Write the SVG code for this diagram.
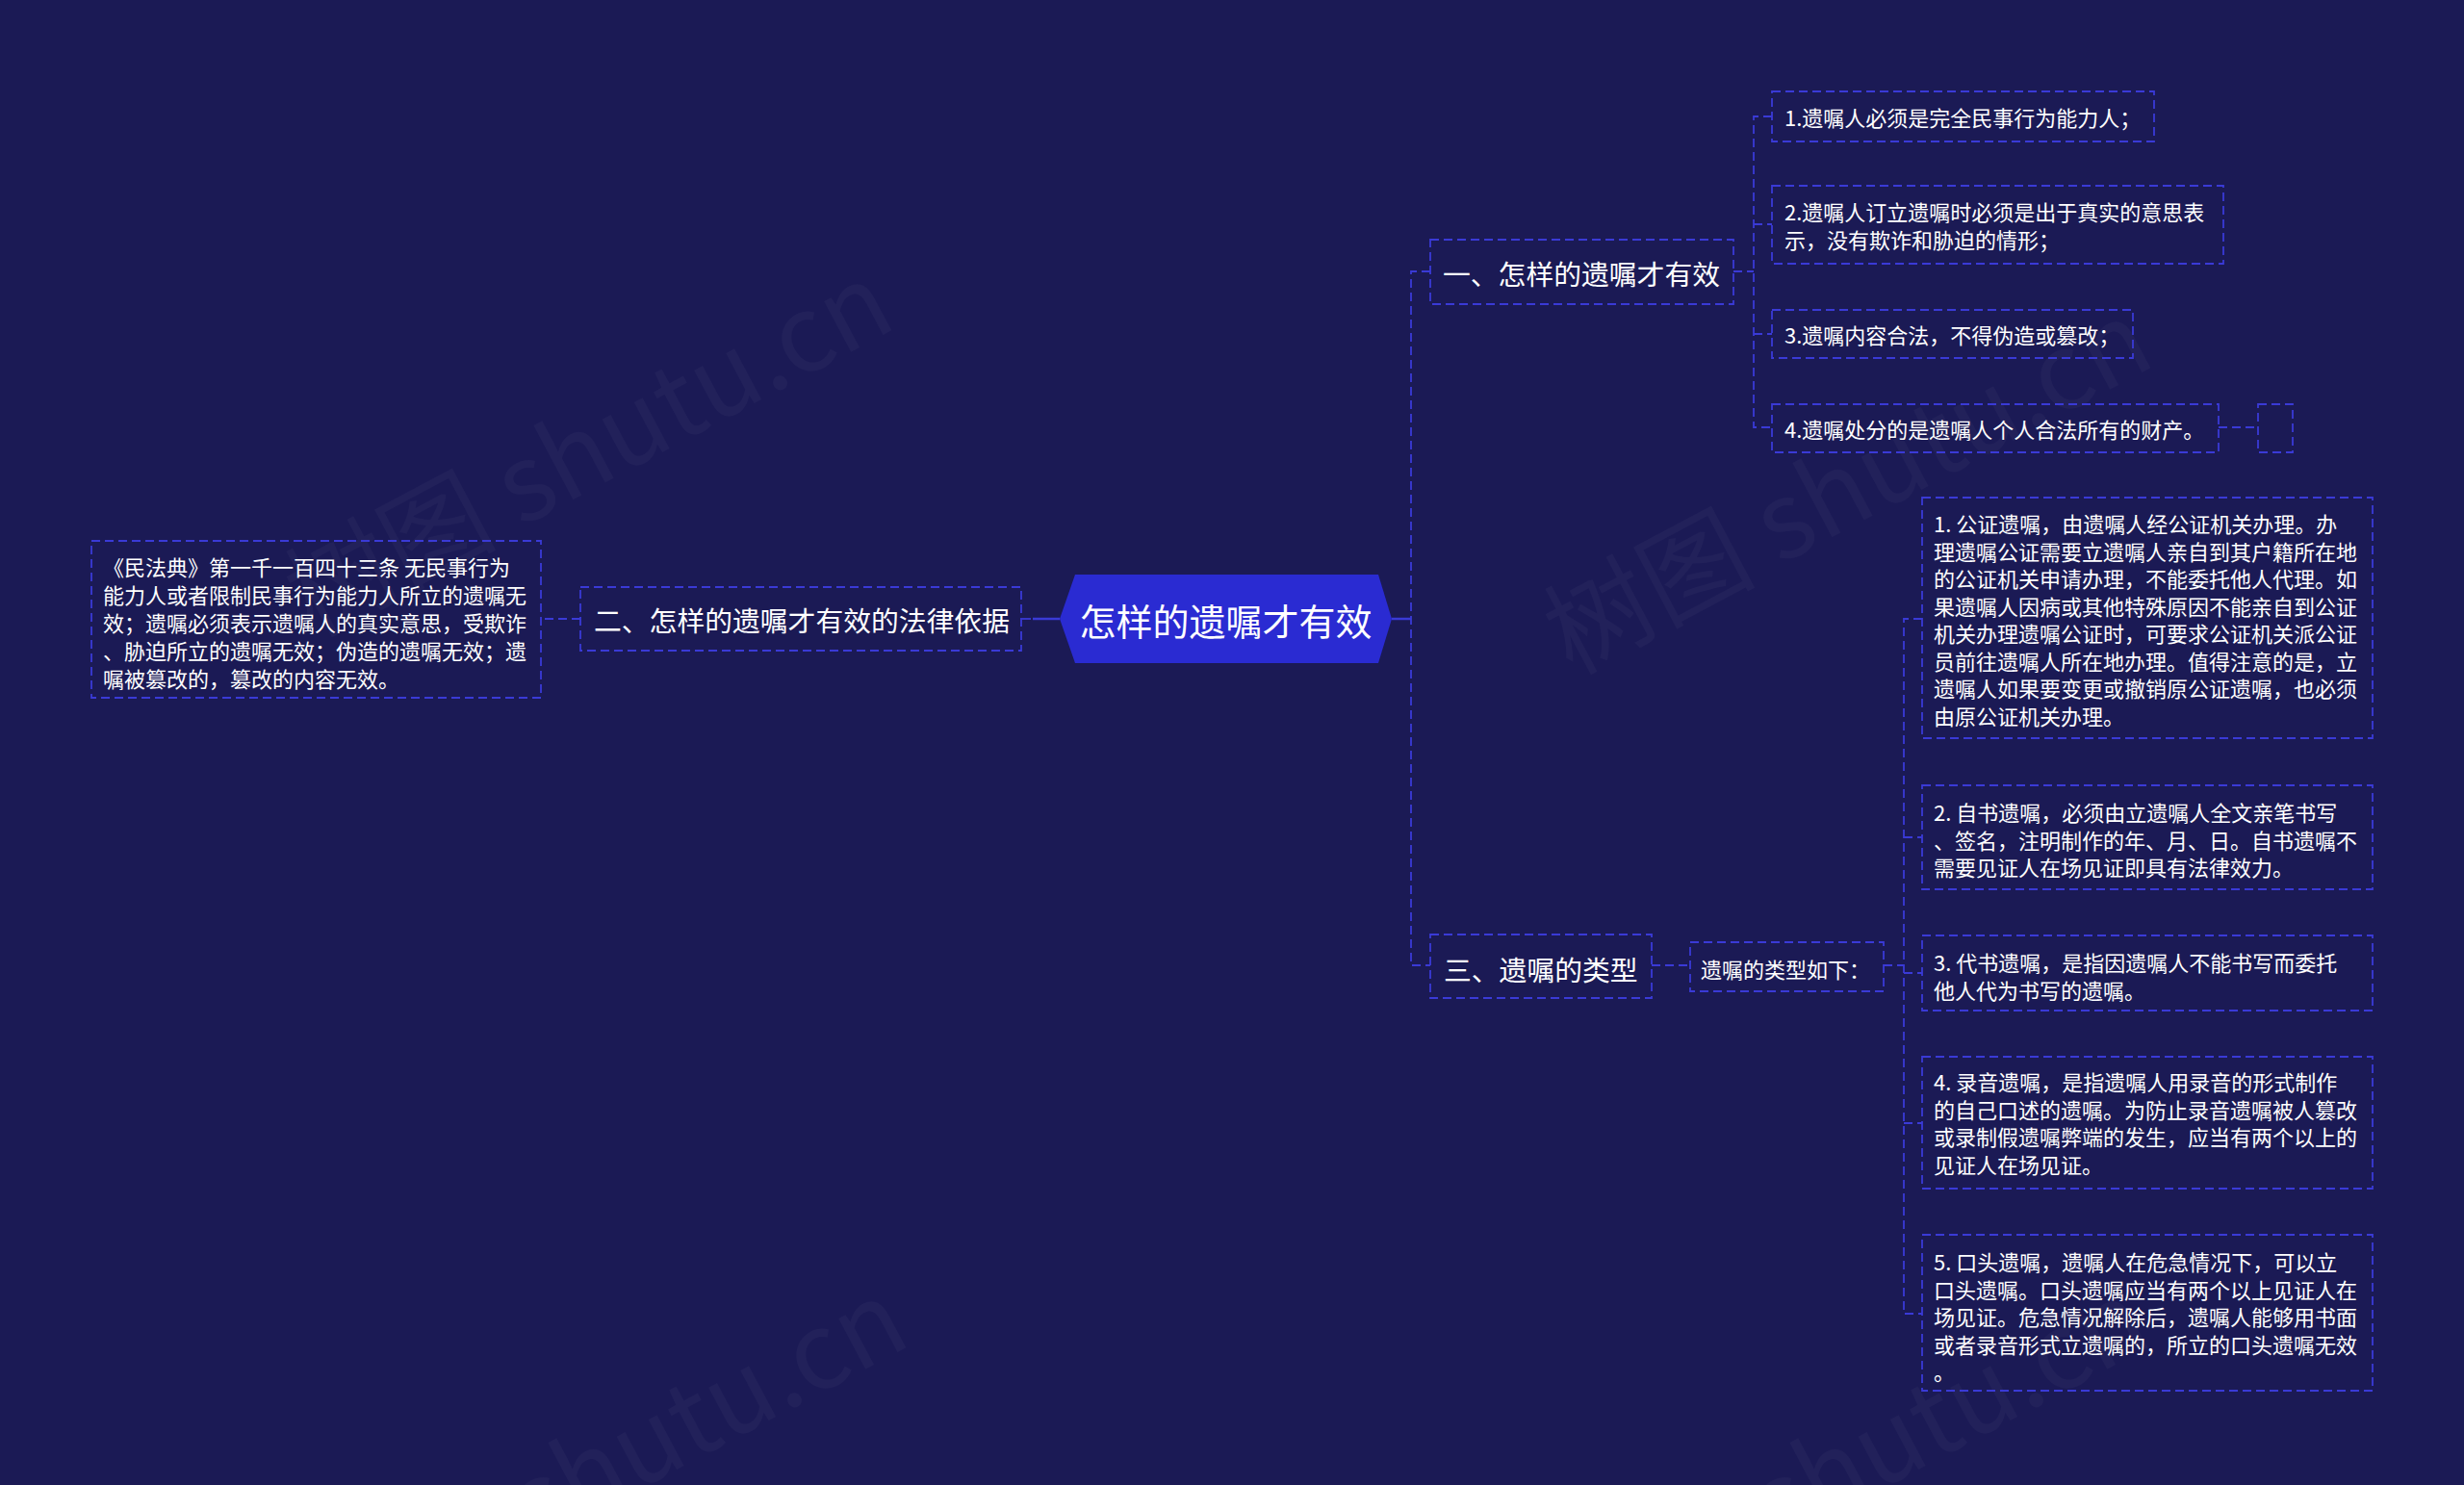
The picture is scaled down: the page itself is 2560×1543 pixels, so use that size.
<svg xmlns="http://www.w3.org/2000/svg" width="2560" height="1543" viewBox="0 0 2560 1543">
<style>
.bg{fill:#1b1a55}
.box{fill:none;stroke:#3a3ad6;stroke-width:1.8;stroke-dasharray:9 5}
.ln{fill:none;stroke:#3a3ad6;stroke-width:1.8;stroke-dasharray:9 5}
.solid{fill:none;stroke:#3a3ad6;stroke-width:2.5}
.t{fill:#ffffff;font-family:"Noto Sans CJK SC","Noto Sans",sans-serif;dominant-baseline:central}
.s22{font-size:22px}
.s29{font-size:28.8px}
.wm{fill:#ffffff;fill-opacity:0.03;font-family:"Noto Sans CJK SC","Noto Sans",sans-serif;font-size:110px}
</style>
<rect class="bg" x="0" y="0" width="2560" height="1543"/>
<g id="watermarks">
<text class="wm" transform="translate(325,663) rotate(-28)">树图 shutu.cn</text>
<text class="wm" transform="translate(1633,702) rotate(-28)">树图 shutu.cn</text>
<text class="wm" transform="translate(340,1720) rotate(-28)">树图 shutu.cn</text>
<text class="wm" transform="translate(1630,1720) rotate(-28)">树图 shutu.cn</text>
</g>
<g id="connectors">
<line class="solid" x1="1101" y1="643" x2="1073" y2="643"/>
<line class="ln" x1="1071" y1="643" x2="1061" y2="643"/>
<line class="ln" x1="603" y1="643" x2="562" y2="643"/>
<line class="solid" x1="1446" y1="643" x2="1466" y2="643"/>
<path class="ln" d="M1486,282 H1466 V1003 H1486"/>
<line class="ln" x1="1801" y1="282" x2="1822" y2="282"/>
<path class="ln" d="M1841,121 H1822 V444 H1841"/>
<line class="ln" x1="1822" y1="233" x2="1841" y2="233"/>
<line class="ln" x1="1822" y1="347" x2="1841" y2="347"/>
<line class="ln" x1="2305" y1="444" x2="2346" y2="444"/>
<line class="ln" x1="1716" y1="1003" x2="1756" y2="1003"/>
<line class="ln" x1="1957" y1="1003" x2="1978" y2="1003"/>
<path class="ln" d="M1997,643 H1978 V1365 H1997"/>
<line class="ln" x1="1978" y1="870" x2="1997" y2="870"/>
<line class="ln" x1="1978" y1="1011" x2="1997" y2="1011"/>
<line class="ln" x1="1978" y1="1167" x2="1997" y2="1167"/>
</g>
<g id="root">
<polygon points="1101,643 1117,597 1432,597 1446,643 1432,689 1117,689" fill="#2a2bd2"/>
<text class="t" x="1273.5" y="643" font-size="38" text-anchor="middle">怎样的遗嘱才有效</text>
</g>
<g id="n1">
<rect class="box" x="1486" y="249" width="315" height="67"/>
<text class="t s29" x="1499" y="283">一、怎样的遗嘱才有效</text>
</g>
<g id="n1c1">
<rect class="box" x="1841" y="95" width="397" height="52"/>
<text class="t s22" x="1854" y="121">1.遗嘱人必须是完全民事行为能力人；</text>
</g>
<g id="n1c2">
<rect class="box" x="1841" y="193" width="469" height="81"/>
<text class="t s22" x="1854" y="219">2.遗嘱人订立遗嘱时必须是出于真实的意思表</text>
<text class="t s22" x="1854" y="248">示，没有欺诈和胁迫的情形；</text>
</g>
<g id="n1c3">
<rect class="box" x="1841" y="322" width="375" height="50"/>
<text class="t s22" x="1854" y="347">3.遗嘱内容合法，不得伪造或篡改；</text>
</g>
<g id="n1c4">
<rect class="box" x="1841" y="420" width="464" height="50"/>
<text class="t s22" x="1854" y="445">4.遗嘱处分的是遗嘱人个人合法所有的财产。</text>
</g>
<g id="n1c4e">
<rect class="box" x="2346" y="420" width="36" height="50"/>
</g>
<g id="n2">
<rect class="box" x="603" y="610" width="458" height="66"/>
<text class="t s29" x="617" y="643">二、怎样的遗嘱才有效的法律依据</text>
</g>
<g id="n2c1">
<rect class="box" x="95" y="562" width="467" height="163"/>
<text class="t s22" x="107" y="588">《民法典》第一千一百四十三条 无民事行为</text>
<text class="t s22" x="107" y="617">能力人或者限制民事行为能力人所立的遗嘱无</text>
<text class="t s22" x="107" y="646">效；遗嘱必须表示遗嘱人的真实意思，受欺诈</text>
<text class="t s22" x="107" y="675">、胁迫所立的遗嘱无效；伪造的遗嘱无效；遗</text>
<text class="t s22" x="107" y="704">嘱被篡改的，篡改的内容无效。</text>
</g>
<g id="n3">
<rect class="box" x="1486" y="971" width="230" height="66"/>
<text class="t s29" x="1500" y="1006">三、遗嘱的类型</text>
</g>
<g id="n3a">
<rect class="box" x="1756" y="979" width="201" height="51"/>
<text class="t s22" x="1767" y="1006">遗嘱的类型如下：</text>
</g>
<g id="n3c1">
<rect class="box" x="1997" y="517" width="468" height="250"/>
<text class="t s22" x="2009" y="543">1. 公证遗嘱，由遗嘱人经公证机关办理。办</text>
<text class="t s22" x="2009" y="571.5">理遗嘱公证需要立遗嘱人亲自到其户籍所在地</text>
<text class="t s22" x="2009" y="600">的公证机关申请办理，不能委托他人代理。如</text>
<text class="t s22" x="2009" y="628.5">果遗嘱人因病或其他特殊原因不能亲自到公证</text>
<text class="t s22" x="2009" y="657">机关办理遗嘱公证时，可要求公证机关派公证</text>
<text class="t s22" x="2009" y="685.5">员前往遗嘱人所在地办理。值得注意的是，立</text>
<text class="t s22" x="2009" y="714">遗嘱人如果要变更或撤销原公证遗嘱，也必须</text>
<text class="t s22" x="2009" y="742.5">由原公证机关办理。</text>
</g>
<g id="n3c2">
<rect class="box" x="1997" y="816" width="468" height="108"/>
<text class="t s22" x="2009" y="843">2. 自书遗嘱，必须由立遗嘱人全文亲笔书写</text>
<text class="t s22" x="2009" y="871.5">、签名，注明制作的年、月、日。自书遗嘱不</text>
<text class="t s22" x="2009" y="900">需要见证人在场见证即具有法律效力。</text>
</g>
<g id="n3c3">
<rect class="box" x="1997" y="972" width="468" height="78"/>
<text class="t s22" x="2009" y="999">3. 代书遗嘱，是指因遗嘱人不能书写而委托</text>
<text class="t s22" x="2009" y="1027.5">他人代为书写的遗嘱。</text>
</g>
<g id="n3c4">
<rect class="box" x="1997" y="1098" width="468" height="137"/>
<text class="t s22" x="2009" y="1123">4. 录音遗嘱，是指遗嘱人用录音的形式制作</text>
<text class="t s22" x="2009" y="1151.5">的自己口述的遗嘱。为防止录音遗嘱被人篡改</text>
<text class="t s22" x="2009" y="1180">或录制假遗嘱弊端的发生，应当有两个以上的</text>
<text class="t s22" x="2009" y="1208.5">见证人在场见证。</text>
</g>
<g id="n3c5">
<rect class="box" x="1997" y="1283" width="468" height="162"/>
<text class="t s22" x="2009" y="1310">5. 口头遗嘱，遗嘱人在危急情况下，可以立</text>
<text class="t s22" x="2009" y="1338.5">口头遗嘱。口头遗嘱应当有两个以上见证人在</text>
<text class="t s22" x="2009" y="1367">场见证。危急情况解除后，遗嘱人能够用书面</text>
<text class="t s22" x="2009" y="1395.5">或者录音形式立遗嘱的，所立的口头遗嘱无效</text>
<text class="t s22" x="2009" y="1424">。</text>
</g>
</svg>
